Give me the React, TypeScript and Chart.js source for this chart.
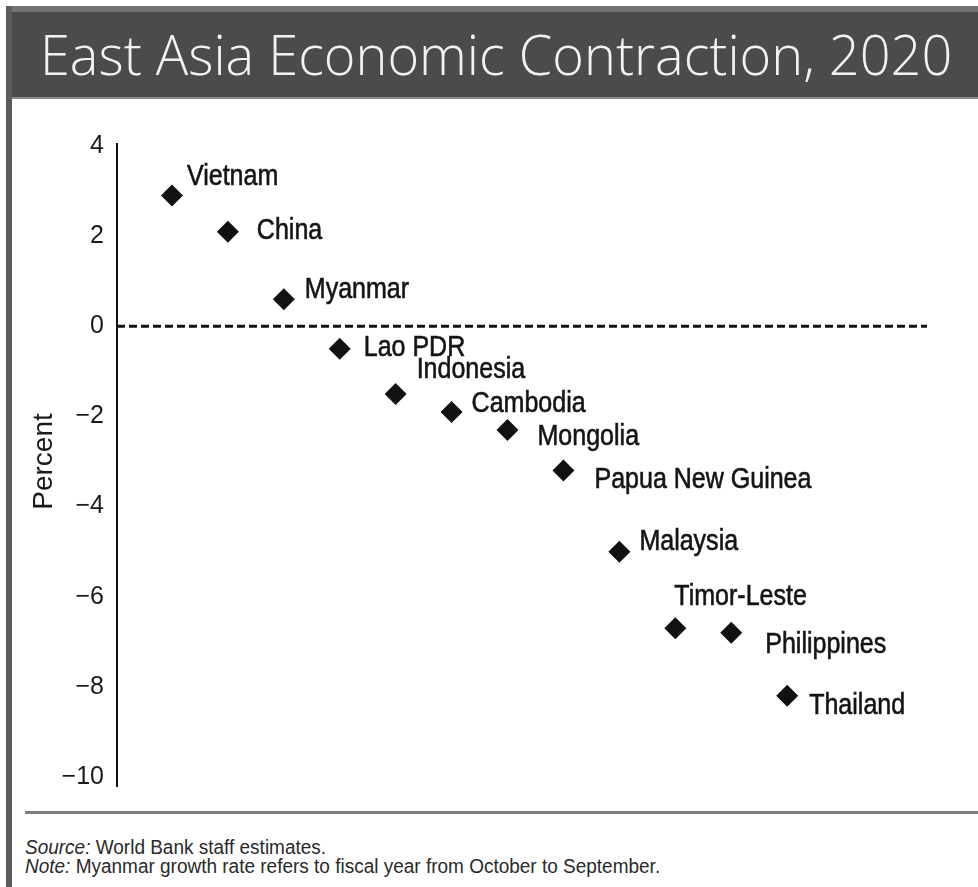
import React, { useEffect, useRef } from "react";
import { Chart, registerables } from "chart.js";
Chart.register(...registerables);

// ---- data ----
const countries = [
  "Vietnam",
  "China",
  "Myanmar",
  "Lao PDR",
  "Indonesia",
  "Cambodia",
  "Mongolia",
  "Papua New Guinea",
  "Malaysia",
  "Timor-Leste",
  "Philippines",
  "Thailand",
];
const growth = [2.9, 2.1, 0.6, -0.5, -1.5, -1.9, -2.3, -3.2, -5.0, -6.7, -6.8, -8.2];
const yMin = -10;
const yMax = 4;
const yStep = 2;

const titleText = "East Asia Economic Contraction, 2020";
const yAxisTitle = "Percent";
const sourceLabel = "Source:";
const sourceText = " World Bank staff estimates.";
const noteLabel = "Note:";
const noteText = " Myanmar growth rate refers to fiscal year from October to September.";

// ---- styling (label offsets in px relative to each marker) ----
const LABEL_OFFSETS: [number, number][] = [
  [15, -11],
  [29, 7],
  [21, -1],
  [24, 7],
  [21, -16],
  [20, 0],
  [30, 15],
  [31, 17],
  [20, -2],
  [-1, -23],
  [34, 20],
  [22, 18],
];
const X_MIN = -0.982;
const X_MAX = 13.5;
const FONT = '"Liberation Sans", Arial, sans-serif';

const labelPlugin = {
  id: "pointLabels",
  afterDatasetsDraw(chart: any) {
    const ctx = chart.ctx;
    const meta = chart.getDatasetMeta(0);
    ctx.save();
    ctx.font = `29px ${FONT}`;
    ctx.fillStyle = "#141414";
    ctx.strokeStyle = "#141414";
    ctx.lineWidth = 0.6;
    ctx.textBaseline = "alphabetic";
    ctx.textAlign = "left";
    let longest = 0;
    countries.forEach((c) => {
      longest = Math.max(longest, ctx.measureText(c).width);
    });
    const sx = 217 / longest;
    meta.data.forEach((pt: any, i: number) => {
      const [dx, dy] = LABEL_OFFSETS[i];
      ctx.save();
      ctx.translate(pt.x + dx, pt.y + dy);
      ctx.scale(sx, 1);
      ctx.fillText(countries[i], 0, 0);
      ctx.strokeText(countries[i], 0, 0);
      ctx.restore();
    });
    ctx.restore();
  },
};

const axisLinePlugin = {
  id: "axisLine",
  afterDatasetsDraw(chart: any) {
    const ctx = chart.ctx;
    const y = chart.scales.y;
    const area = chart.chartArea;
    ctx.save();
    ctx.strokeStyle = "#111";
    ctx.lineWidth = 2;
    ctx.beginPath();
    ctx.moveTo(y.right, area.top - 3);
    ctx.lineTo(y.right, area.bottom + 10);
    ctx.stroke();
    ctx.restore();
  },
};

export default function App() {
  const canvasRef = useRef<HTMLCanvasElement | null>(null);
  const titleRef = useRef<HTMLSpanElement | null>(null);
  const srcRef = useRef<HTMLDivElement | null>(null);
  const noteRef = useRef<HTMLDivElement | null>(null);

  useEffect(() => {
    const fit = () => {
      const t = titleRef.current;
      if (t) {
        const w = t.offsetWidth;
        t.style.transform = `scaleX(${912 / w})`;
      }
      const n = noteRef.current;
      const s = srcRef.current;
      if (n && s) {
        const k = 635 / n.offsetWidth;
        n.style.transform = `scaleX(${k})`;
        s.style.transform = `scaleX(${k})`;
      }
    };
    fit();
    (document as any).fonts?.ready?.then(fit);
  }, []);

  useEffect(() => {
    if (!canvasRef.current) return;
    const chart = new Chart(canvasRef.current, {
      type: "scatter",
      data: {
        datasets: [
          {
            data: countries.map((c, i) => ({ x: i, y: growth[i] })),
            pointStyle: "rectRot",
            pointRadius: 11,
            pointHoverRadius: 11,
            backgroundColor: "#111",
            borderColor: "#111",
            borderWidth: 0,
          },
          {
            type: "line",
            data: [
              { x: X_MIN, y: 0 },
              { x: X_MAX, y: 0 },
            ],
            borderColor: "#111",
            borderWidth: 3,
            borderDash: [8, 4],
            pointRadius: 0,
            showLine: true,
          } as any,
        ],
      },
      options: {
        animation: false,
        responsive: false,
        devicePixelRatio: 1,
        layout: { padding: { top: 46, bottom: 31, left: 0, right: 51 } },
        plugins: {
          legend: { display: false },
          tooltip: { enabled: false },
        },
        scales: {
          x: { type: "linear", min: X_MIN, max: X_MAX, display: false },
          y: {
            min: yMin,
            max: yMax,
            afterFit: (scale: any) => {
              scale.width = 117;
            },
            ticks: {
              stepSize: yStep,
              padding: 13,
              color: "#1a1a1a",
              font: { family: FONT, size: 25 },
              callback: (v: any) => String(v).replace("-", "\u2212"),
            },
            grid: { display: false, drawTicks: false },
            border: { display: false },
            title: {
              display: true,
              text: yAxisTitle,
              color: "#1a1a1a",
              font: { family: FONT, size: 28 },
              padding: { top: 27, bottom: 0 },
            },
          },
        },
      },
      plugins: [labelPlugin, axisLinePlugin],
    } as any);
    return () => chart.destroy();
  }, []);

  return (
    <div
      style={{
        position: "absolute",
        left: 0,
        top: 0,
        width: 978,
        height: 887,
        background: "#fff",
        overflow: "hidden",
      }}
    >
      <div style={{ position: "absolute", left: 6, top: 6, width: 972, height: 6, background: "#737373" }} />
      <div style={{ position: "absolute", left: 6, top: 6, width: 6, height: 881, background: "#5c5c5c" }} />
      <div style={{ position: "absolute", left: 12, top: 12, width: 966, height: 85, background: "#4b4b4b" }} />
      <div style={{ position: "absolute", left: 12, top: 97, width: 966, height: 2, background: "#8c8c8c" }} />
      <span
        ref={titleRef}
        style={{
          position: "absolute",
          left: 40,
          top: 25,
          whiteSpace: "nowrap",
          fontFamily: '"Open Sans", sans-serif',
          fontWeight: 300,
          fontSize: 56,
          lineHeight: "56px",
          color: "#f2f2f2",
          transformOrigin: "0 0",
        }}
      >
        {titleText}
      </span>
      <canvas
        ref={canvasRef}
        width={978}
        height={708}
        style={{ position: "absolute", left: 0, top: 100, width: 978, height: 708 }}
      />
      <div style={{ position: "absolute", left: 25, top: 811, width: 953, height: 3, background: "#7d7d7d" }} />
      <div
        ref={srcRef}
        style={{
          position: "absolute",
          left: 25,
          top: 836,
          whiteSpace: "nowrap",
          fontFamily: FONT,
          fontSize: 20,
          lineHeight: "22px",
          color: "#2a2a2a",
          transformOrigin: "0 0",
        }}
      >
        <i>{sourceLabel}</i>
        {sourceText}
      </div>
      <div
        ref={noteRef}
        style={{
          position: "absolute",
          left: 25,
          top: 855,
          whiteSpace: "nowrap",
          fontFamily: FONT,
          fontSize: 20,
          lineHeight: "22px",
          color: "#2a2a2a",
          transformOrigin: "0 0",
        }}
      >
        <i>{noteLabel}</i>
        {noteText}
      </div>
    </div>
  );
}
